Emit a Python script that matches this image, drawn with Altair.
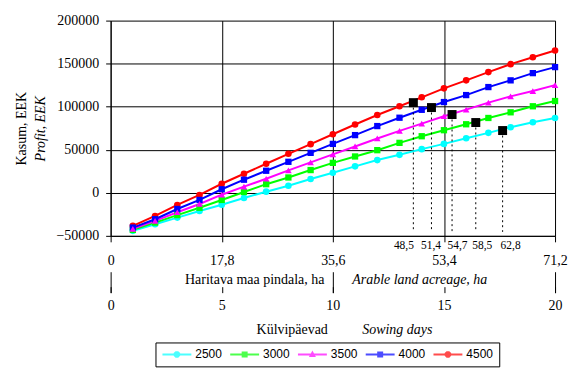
import altair as alt
import pandas as pd

# ---- data ----
acreage = [3.56, 7.12, 10.68, 14.24, 17.8, 21.36, 24.92, 28.48, 32.04, 35.6,
           39.16, 42.72, 46.28, 49.84, 53.4, 56.96, 60.52, 64.08, 67.64, 71.2]
series_names = ["2500", "3000", "3500", "4000", "4500"]
series_values = [2500, 3000, 3500, 4000, 4500]
profit_2500 = [-44200, -36500, -28800, -21100, -13800, -6000, 1300, 8200, 16000, 23300,
               30700, 38000, 44100, 50700, 56800, 63400, 69600, 76200, 81900, 86900]
profit_3000 = [-43100, -34600, -25900, -17400, -8300, 900, 10000, 17800, 26400, 34800,
               42200, 49500, 58000, 65700, 72700, 79600, 86900, 93500, 100500, 106600]
profit_3500 = [-41900, -32600, -22600, -13000, -2200, 7100, 16300, 26000, 35300, 44600,
               53800, 63100, 71900, 80400, 88900, 96600, 104700, 112000, 118200, 125100]
profit_4000 = [-40400, -30700, -18800, -8300, 4100, 15200, 25600, 36000, 46400, 56800,
               67000, 77500, 87200, 96400, 105400, 113500, 122800, 130600, 139000, 146000]
profit_4500 = [-38400, -26900, -14100, -2500, 10500, 22100, 33700, 45300, 56500, 68000,
               79300, 90400, 100500, 110900, 121300, 130600, 140200, 149400, 157500, 165300]

opt_acreage = [48.5, 51.4, 54.7, 58.5, 62.8]
opt_profit = [104700, 99000, 90900, 81600, 72300]
guide_floor = [-45400, -45400, -45400, -45400, -45400]

ha_ticks = [0, 17.8, 35.6, 53.4, 71.2]
day_major = [0, 35.6, 71.2]
y_ticks = [-50000, 0, 50000, 100000, 150000, 200000]

colors = ["#00FFFF", "#00FF00", "#FF00FF", "#0000FF", "#FF0000"]
circle_series = ["2500", "4500"]
square_series = ["3000", "4000"]
triangle_series = ["3500"]

# legend symbols: a line segment with the series marker in its middle
LINE_PART = "M-1,-0.2L4.8,-0.2L4.8,0.2L-1,0.2Z"
CIRCLE_PATH = LINE_PART + "M2.55,0.27L2.17,0.65L1.63,0.65L1.25,0.27L1.25,-0.27L1.63,-0.65L2.17,-0.65L2.55,-0.27Z"
SQUARE_PATH = LINE_PART + "M1.3,-0.6L2.5,-0.6L2.5,0.6L1.3,0.6Z"
TRIANGLE_PATH = LINE_PART + "M1.9,-0.8L2.6,0.5L1.2,0.5Z"
symbol_expr = (
    "(datum.value == 2500 || datum.value == 4500) ? '" + CIRCLE_PATH + "' : "
    "(datum.value == 3500 ? '" + TRIANGLE_PATH + "' : '" + SQUARE_PATH + "')"
)

all_profits = [profit_2500, profit_3000, profit_3500, profit_4000, profit_4500]
rows = []
for name, vals in zip(series_names, all_profits):
    for a, v in zip(acreage, vals):
        rows.append({"series": name, "acreage": a, "profit": v})
df = pd.DataFrame(rows)
opt_df = pd.DataFrame({"acreage": opt_acreage, "profit": opt_profit, "floor": guide_floor})
leg_df = pd.DataFrame({"price": series_values})

xscale = alt.Scale(domain=[0, 71.2], nice=False, zero=True)
yscale = alt.Scale(domain=[-50000, 200000], nice=False)
cscale = alt.Scale(domain=series_names, range=colors)
lab_ha = "datum.value == 0 ? '0' : replace(format(datum.value, '.1f'), '.', ',')"
lab_opt = "replace(format(datum.value, '.1f'), '.', ',')"
lab_day = "format(round(datum.value / 3.56), 'd')"
SERIF = "Liberation Serif"

lines = alt.Chart(df).mark_line(strokeWidth=2).encode(
    x=alt.X("acreage:Q", scale=xscale, axis=alt.Axis(
        orient="bottom", values=ha_ticks, labelExpr=lab_ha, tickSize=6, labelPadding=12,
        grid=True, gridColor="black", gridWidth=1,
        title="Külvipäevad", titleX=146, titleY=98, titleAlign="left",
        titleBaseline="alphabetic")),
    y=alt.Y("profit:Q", scale=yscale, axis=alt.Axis(
        orient="left", values=y_ticks, format="d", tickSize=5, labelPadding=7,
        grid=True, gridColor="black", gridWidth=1,
        title="Kasum, EEK", titleX=-89, titleY=108, titleAngle=270,
        titleBaseline="middle", titleAlign="center")),
    color=alt.Color("series:N", scale=cscale, legend=None),
)

circles = alt.Chart(df).transform_filter(
    alt.FieldOneOfPredicate(field="series", oneOf=circle_series)
).mark_circle(size=44, opacity=1).encode(
    x=alt.X("acreage:Q", scale=xscale, axis=alt.Axis(
        orient="bottom", values=ha_ticks, labelExpr=lab_day, offset=51, tickSize=6,
        labelPadding=6, domain=False, grid=False,
        title="Arable land acreage, ha", titleFontStyle="italic", titleX=242, titleY=-3,
        titleAlign="left", titleBaseline="alphabetic")),
    y=alt.Y("profit:Q", scale=yscale, axis=None),
    color=alt.Color("series:N", scale=cscale, legend=None),
)

squares_s = alt.Chart(df).transform_filter(
    alt.FieldOneOfPredicate(field="series", oneOf=square_series)
).mark_square(size=40, opacity=1).encode(
    x=alt.X("acreage:Q", scale=xscale, axis=None),
    y=alt.Y("profit:Q", scale=yscale, axis=None),
    color=alt.Color("series:N", scale=cscale, legend=None),
)

triangles = alt.Chart(df).transform_filter(
    alt.FieldOneOfPredicate(field="series", oneOf=triangle_series)
).mark_point(shape="triangle-up", filled=True, size=44, opacity=1).encode(
    x=alt.X("acreage:Q", scale=xscale, axis=None),
    y=alt.Y("profit:Q", scale=yscale, axis=None),
    color=alt.Color("series:N", scale=cscale, legend=None),
)

rules = alt.Chart(opt_df).mark_rule(color="black", strokeWidth=1, strokeDash=[2, 3]).encode(
    x=alt.X("acreage:Q", scale=xscale, axis=alt.Axis(
        orient="bottom", values=day_major, labels=False, offset=36, tickSize=21,
        domain=False, grid=False,
        title="Haritava maa pindala, ha", titleX=214, titleY=12, titleAlign="right",
        titleBaseline="alphabetic")),
    y=alt.Y("profit:Q", scale=yscale, axis=alt.Axis(
        orient="left", labels=False, ticks=False, domain=False, grid=False,
        title="Profit, EEK", titleFontStyle="italic", titleX=-70, titleY=108,
        titleAngle=270, titleBaseline="middle", titleAlign="center")),
    y2="floor:Q",
)

opt_marks = alt.Chart(opt_df).mark_square(color="black", size=81, opacity=1).encode(
    x=alt.X("acreage:Q", scale=xscale, axis=alt.Axis(
        orient="bottom", values=opt_acreage, labelExpr=lab_opt, labelFontSize=11.5,
        ticks=False, tickSize=0, domain=False, grid=False, labelPadding=4,
        labelOffset={"condition": [
            {"test": "datum.value == 48.5", "value": -10},
            {"test": "datum.value == 51.4", "value": -1},
            {"test": "datum.value == 54.7", "value": 5},
            {"test": "datum.value == 58.5", "value": 6},
            {"test": "datum.value == 62.8", "value": 7.5}], "value": 0},
        title="Sowing days", titleFontStyle="italic", titleX=252, titleY=98,
        titleAlign="left", titleBaseline="alphabetic")),
    y=alt.Y("profit:Q", scale=yscale, axis=None),
)

leg = alt.Legend(title=None, orient="none", legendX=45, legendY=323, direction="horizontal",
                 columns=5, strokeColor="black", padding=6, labelFont="Liberation Sans",
                 labelFontSize=12, symbolSize=100, labelOffset=22,
                 columnPadding=7, fillColor="white",
                 symbolType={"expr": symbol_expr})

legend_layer = alt.Chart(leg_df).mark_point(filled=True, clip=True).encode(
    x=alt.value(-100),
    y=alt.value(-100),
    fill=alt.Fill("price:O", scale=alt.Scale(domain=series_values, range=colors), legend=leg),
)

chart = alt.layer(lines, circles, squares_s, triangles, rules, opt_marks, legend_layer).resolve_axis(
    x="independent", y="independent"
).properties(
    width=446, height=216,
    autosize=alt.AutoSizeParams(type="none"),
    padding={"left": 103, "top": 12, "right": 13, "bottom": 138},
    background="white",
).configure_view(strokeWidth=0).configure_axis(
    labelFont=SERIF, labelFontSize=14, titleFont=SERIF, titleFontSize=14,
    titleFontWeight="normal", labelColor="black", titleColor="black",
    domainColor="black", tickColor="black", labelFlush=False, labelOverlap=False,
    domainWidth=1, tickWidth=1,
)

chart.save("out.html", embed_options={"renderer": "svg", "actions": False})
